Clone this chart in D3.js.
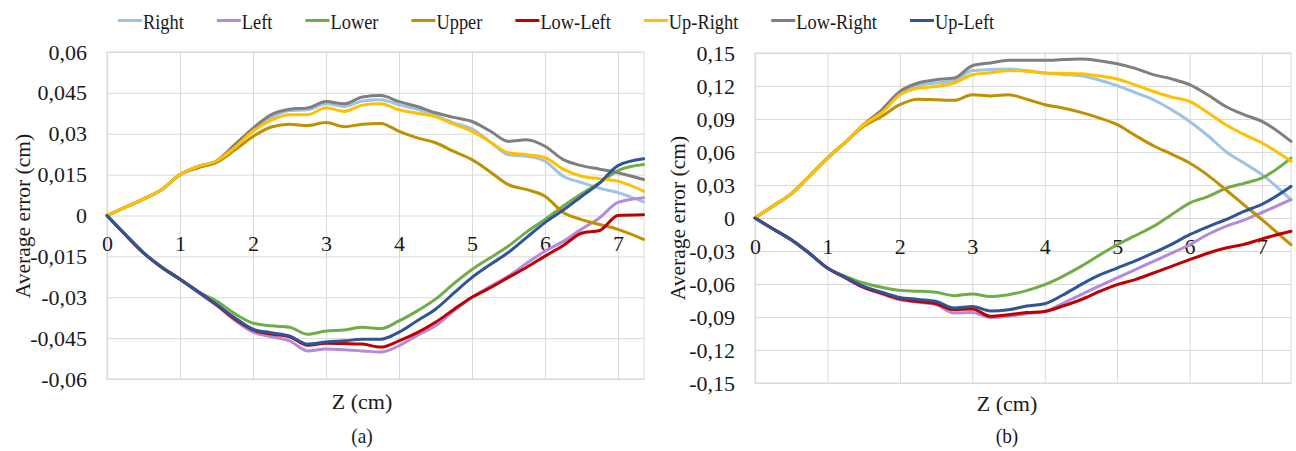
<!DOCTYPE html>
<html><head><meta charset="utf-8">
<script src="https://cdn.jsdelivr.net/npm/d3@7"></script>
<style>
body{margin:0;background:#fff}
svg{display:block;background:#fff}
</style>
</head><body>
<svg id="c" width="1296" height="451"></svg>
<script>
// ---------- DATA ----------
const seriesNames = ["Right","Left","Lower","Upper","Low-Left","Up-Right","Low-Right","Up-Left"];
const seriesColors = ["#9DC3E6","#B48BDB","#70AD47","#BF9000","#C00000","#FFC000","#7F7F7F","#2F5597"];
const drawOrder = ["Right","Left","Lower","Upper","Low-Left","Low-Right","Up-Right","Up-Left"];

const xTicks = [0,1,2,3,4,5,6,7];
const xTickLabels = ["0","1","2","3","4","5","6","7"];

const yTicksA = [0.06,0.045,0.03,0.015,0,-0.015,-0.03,-0.045,-0.06];
const yTickLabelsA = ["0,06","0,045","0,03","0,015","0","-0,015","-0,03","-0,045","-0,06"];
const yTicksB = [0.15,0.12,0.09,0.06,0.03,0,-0.03,-0.06,-0.09,-0.12,-0.15];
const yTickLabelsB = ["0,15","0,12","0,09","0,06","0,03","0","-0,03","-0,06","-0,09","-0,12","-0,15"];

// panel (a)
const zA = [0,0.25,0.5,0.75,1,1.25,1.5,1.75,2,2.25,2.5,2.75,3,3.25,3.5,3.75,4,4.25,4.5,4.75,5,5.25,5.5,5.75,6,6.25,6.5,6.75,7,7.35];
const aRight    = [0,0.003,0.006,0.0095,0.015,0.018,0.020,0.0255,0.032,0.036,0.0385,0.0388,0.041,0.040,0.042,0.0425,0.0406,0.039,0.0366,0.034,0.0318,0.027,0.0223,0.0217,0.0199,0.0144,0.0121,0.010,0.0084,0.005];
const aLeft     = [0,-0.007,-0.0137,-0.019,-0.0234,-0.0283,-0.033,-0.0385,-0.0428,-0.0445,-0.046,-0.0497,-0.049,-0.0493,-0.0497,-0.0501,-0.0478,-0.044,-0.0405,-0.035,-0.030,-0.026,-0.0222,-0.0175,-0.0131,-0.0095,-0.005,-0.0008,0.0048,0.0065];
const aLower    = [0,-0.007,-0.0137,-0.019,-0.0234,-0.028,-0.0314,-0.036,-0.0395,-0.0405,-0.041,-0.0436,-0.0424,-0.042,-0.041,-0.0415,-0.0387,-0.035,-0.0307,-0.025,-0.0198,-0.0155,-0.0112,-0.006,-0.0015,0.0035,0.008,0.012,0.0165,0.0187];
const aUpper    = [0,0.003,0.006,0.0095,0.015,0.0175,0.0195,0.024,0.029,0.0325,0.0335,0.033,0.0341,0.0326,0.0335,0.0338,0.0309,0.0285,0.0267,0.0235,0.0205,0.016,0.0113,0.0095,0.0071,0.0011,-0.0015,-0.0033,-0.0051,-0.0088];
const aLowLeft  = [0,-0.007,-0.0137,-0.019,-0.0234,-0.028,-0.0328,-0.038,-0.042,-0.0435,-0.0445,-0.0476,-0.0469,-0.047,-0.0472,-0.0483,-0.046,-0.043,-0.0392,-0.0345,-0.030,-0.0265,-0.0227,-0.019,-0.0149,-0.011,-0.0065,-0.0055,0,0.0003];
const aUpRight  = [0,0.003,0.006,0.0095,0.015,0.018,0.020,0.025,0.031,0.035,0.037,0.037,0.0395,0.0382,0.0405,0.041,0.0388,0.0375,0.0362,0.0335,0.0309,0.027,0.023,0.0223,0.0212,0.017,0.0144,0.0135,0.0126,0.0089];
const aLowRight = [0,0.003,0.006,0.0095,0.015,0.018,0.020,0.026,0.032,0.037,0.039,0.0395,0.0418,0.041,0.0435,0.044,0.0418,0.040,0.0377,0.036,0.0345,0.031,0.0272,0.0278,0.0254,0.0205,0.0183,0.017,0.0157,0.0132];
const aUpLeft   = [0,-0.007,-0.0137,-0.019,-0.0234,-0.028,-0.0326,-0.0375,-0.0417,-0.043,-0.0442,-0.0472,-0.0464,-0.046,-0.0454,-0.0454,-0.0428,-0.0386,-0.0344,-0.0285,-0.0227,-0.018,-0.0135,-0.008,-0.0026,0.002,0.007,0.012,0.0183,0.0208];

// panel (b)
const zB = [0,0.25,0.5,0.75,1,1.25,1.5,1.75,2,2.25,2.5,2.75,3,3.25,3.5,3.75,4,4.25,4.5,4.75,5,5.25,5.5,5.75,6,6.25,6.5,6.75,7,7.4];
const bRight    = [0,0.011,0.022,0.038,0.0545,0.069,0.085,0.097,0.1135,0.1205,0.1227,0.125,0.134,0.135,0.1354,0.134,0.1318,0.1305,0.1293,0.1255,0.1203,0.114,0.1075,0.0985,0.0878,0.075,0.0605,0.050,0.0394,0.0166];
const bLeft     = [0,-0.010,-0.0197,-0.032,-0.0455,-0.0545,-0.063,-0.069,-0.0743,-0.0765,-0.0788,-0.0864,-0.0858,-0.0905,-0.0894,-0.087,-0.0849,-0.0775,-0.0697,-0.062,-0.0545,-0.047,-0.0394,-0.032,-0.0243,-0.015,-0.0076,-0.002,0.005,0.0166];
const bLower    = [0,-0.010,-0.0197,-0.032,-0.0455,-0.053,-0.0591,-0.063,-0.0658,-0.0665,-0.0676,-0.0706,-0.0691,-0.0713,-0.0697,-0.066,-0.0606,-0.053,-0.044,-0.034,-0.0243,-0.016,-0.0076,0.003,0.0136,0.0195,0.027,0.0315,0.0364,0.0545];
const bUpper    = [0,0.011,0.022,0.038,0.0545,0.069,0.0833,0.0924,0.103,0.108,0.1075,0.107,0.112,0.111,0.112,0.108,0.103,0.100,0.096,0.091,0.0848,0.075,0.0657,0.058,0.050,0.039,0.0257,0.012,-0.0015,-0.0243];
const bLowLeft  = [0,-0.010,-0.0197,-0.032,-0.0455,-0.0545,-0.063,-0.0685,-0.0735,-0.076,-0.078,-0.0834,-0.0827,-0.0894,-0.0879,-0.086,-0.0849,-0.080,-0.0743,-0.067,-0.0606,-0.056,-0.050,-0.044,-0.0379,-0.032,-0.0273,-0.024,-0.019,-0.0121];
const bUpRight  = [0,0.011,0.022,0.038,0.0545,0.069,0.0848,0.0957,0.112,0.118,0.1196,0.1227,0.1303,0.132,0.1342,0.1335,0.1318,0.1315,0.1312,0.129,0.1264,0.121,0.115,0.110,0.106,0.096,0.0848,0.076,0.0682,0.0515];
const bLowRight = [0,0.011,0.022,0.038,0.0545,0.069,0.085,0.0984,0.115,0.1227,0.1257,0.1273,0.1384,0.141,0.1433,0.1435,0.1433,0.144,0.1445,0.143,0.1403,0.136,0.1303,0.1265,0.1212,0.112,0.1014,0.094,0.0878,0.0696];
const bUpLeft   = [0,-0.010,-0.0197,-0.032,-0.0455,-0.054,-0.0622,-0.0675,-0.0722,-0.074,-0.0758,-0.0818,-0.0804,-0.0845,-0.0834,-0.080,-0.0779,-0.070,-0.0606,-0.052,-0.0455,-0.039,-0.0318,-0.024,-0.0152,-0.008,-0.0015,0.006,0.0125,0.0287];

// ---------- DRAW ----------
const svg = d3.select("#c");
const colorOf = d3.scaleOrdinal().domain(seriesNames).range(seriesColors);
const FONT = '"Liberation Serif", "Times New Roman", serif';
const INK = "#1a1a1a";

function styleText(sel, size){
  sel.style("font-family", FONT).style("font-size", size + "px").attr("fill", INK);
}

function panel(cfg){
  const x = d3.scaleLinear().domain([0, cfg.zmax]).range([cfg.left, cfg.right]);
  const y = d3.scaleLinear().domain(cfg.yDomain).range([cfg.bottom, cfg.top]);
  const g = svg.append("g");

  // horizontal grid
  g.append("g").attr("transform", `translate(${cfg.left},0)`)
    .call(d3.axisLeft(y).tickValues(cfg.yTicks).tickSize(-(cfg.right - cfg.left)).tickFormat(""))
    .call(s => { s.select(".domain").remove(); s.selectAll("line").attr("stroke", "#d9d9d9").attr("stroke-width", 1); });
  // vertical grid
  g.append("g").attr("transform", `translate(0,${cfg.bottom})`)
    .call(d3.axisBottom(x).tickValues(xTicks).tickSize(-(cfg.bottom - cfg.top)).tickFormat(""))
    .call(s => { s.select(".domain").remove(); s.selectAll("line").attr("stroke", "#d9d9d9").attr("stroke-width", 1); });
  // border
  g.append("rect").attr("x", cfg.left).attr("y", cfg.top)
    .attr("width", cfg.right - cfg.left).attr("height", cfg.bottom - cfg.top)
    .attr("fill", "none").attr("stroke", "#d9d9d9").attr("stroke-width", 1);

  // y tick labels
  g.append("g").attr("transform", `translate(${cfg.left},0)`)
    .call(d3.axisLeft(y).tickValues(cfg.yTicks).tickSize(0).tickPadding(20)
      .tickFormat(d => cfg.yLabels[cfg.yTicks.indexOf(d)]))
    .call(s => { s.select(".domain").remove(); })
    .selectAll("text").call(styleText, 22);

  // x tick labels at the zero line
  g.append("g").attr("transform", `translate(0,${y(0)})`)
    .call(d3.axisBottom(x).tickValues(xTicks).tickSize(0).tickPadding(20)
      .tickFormat(d => xTickLabels[xTicks.indexOf(d)]))
    .call(s => { s.select(".domain").remove(); })
    .selectAll("text").call(styleText, 22);

  // lines
  const line = d3.line().x(d => x(d[0])).y(d => y(d[1])).curve(d3.curveMonotoneX);
  drawOrder.forEach(name => {
    const vals = cfg.series[name];
    const pts = cfg.z.map((z, i) => [z, vals[i]]);
    g.append("path").attr("d", line(pts)).attr("fill", "none")
      .attr("stroke", colorOf(name)).attr("stroke-width", 3)
      .attr("stroke-linejoin", "round").attr("stroke-linecap", "round");
  });

  // axis titles
  g.append("text").attr("transform", `translate(${cfg.yTitleX},${cfg.yTitleY}) rotate(-90)`)
    .attr("text-anchor", "middle").attr("dy", "0.35em").call(styleText, 21.5)
    .text("Average error (cm)");
  g.append("text").attr("x", cfg.xTitleX).attr("y", cfg.xTitleY)
    .attr("text-anchor", "middle").call(styleText, 22).text("Z (cm)");
  g.append("text").attr("transform", `translate(${cfg.xTitleX},443) scale(0.88,1)`)
    .attr("text-anchor", "middle").call(styleText, 22).text(cfg.caption);
}

panel({
  left: 107, right: 644, top: 52, bottom: 379, zmax: 7.356,
  yDomain: [-0.06, 0.06], yTicks: yTicksA, yLabels: yTickLabelsA,
  z: zA,
  series: {"Right": aRight, "Left": aLeft, "Lower": aLower, "Upper": aUpper,
           "Low-Left": aLowLeft, "Up-Right": aUpRight, "Low-Right": aLowRight, "Up-Left": aUpLeft},
  yTitleX: 22, yTitleY: 216, xTitleX: 362, xTitleY: 409, caption: "(a)"
});
panel({
  left: 755, right: 1291, top: 53, bottom: 383, zmax: 7.40,
  yDomain: [-0.15, 0.15], yTicks: yTicksB, yLabels: yTickLabelsB,
  z: zB,
  series: {"Right": bRight, "Left": bLeft, "Lower": bLower, "Upper": bUpper,
           "Low-Left": bLowLeft, "Up-Right": bUpRight, "Low-Right": bLowRight, "Up-Left": bUpLeft},
  yTitleX: 677, yTitleY: 218, xTitleX: 1007, xTitleY: 411, caption: "(b)"
});

// legend
const SQ = 0.855;
const leg = svg.append("g");
let lx = 118;
seriesNames.forEach((name, i) => {
  const it = leg.append("g").attr("transform", `translate(${lx},0)`);
  it.append("line").attr("x1", 0).attr("x2", 24).attr("y1", 20.5).attr("y2", 20.5)
    .attr("stroke", seriesColors[i]).attr("stroke-width", 3);
  const t = it.append("text").attr("transform", `translate(25,29) scale(${SQ},1)`)
    .call(styleText, 21.5).text(name);
  const w = t.node().getComputedTextLength() * SQ;
  lx += 25 + w + 33;
});
</script>
</body></html>
